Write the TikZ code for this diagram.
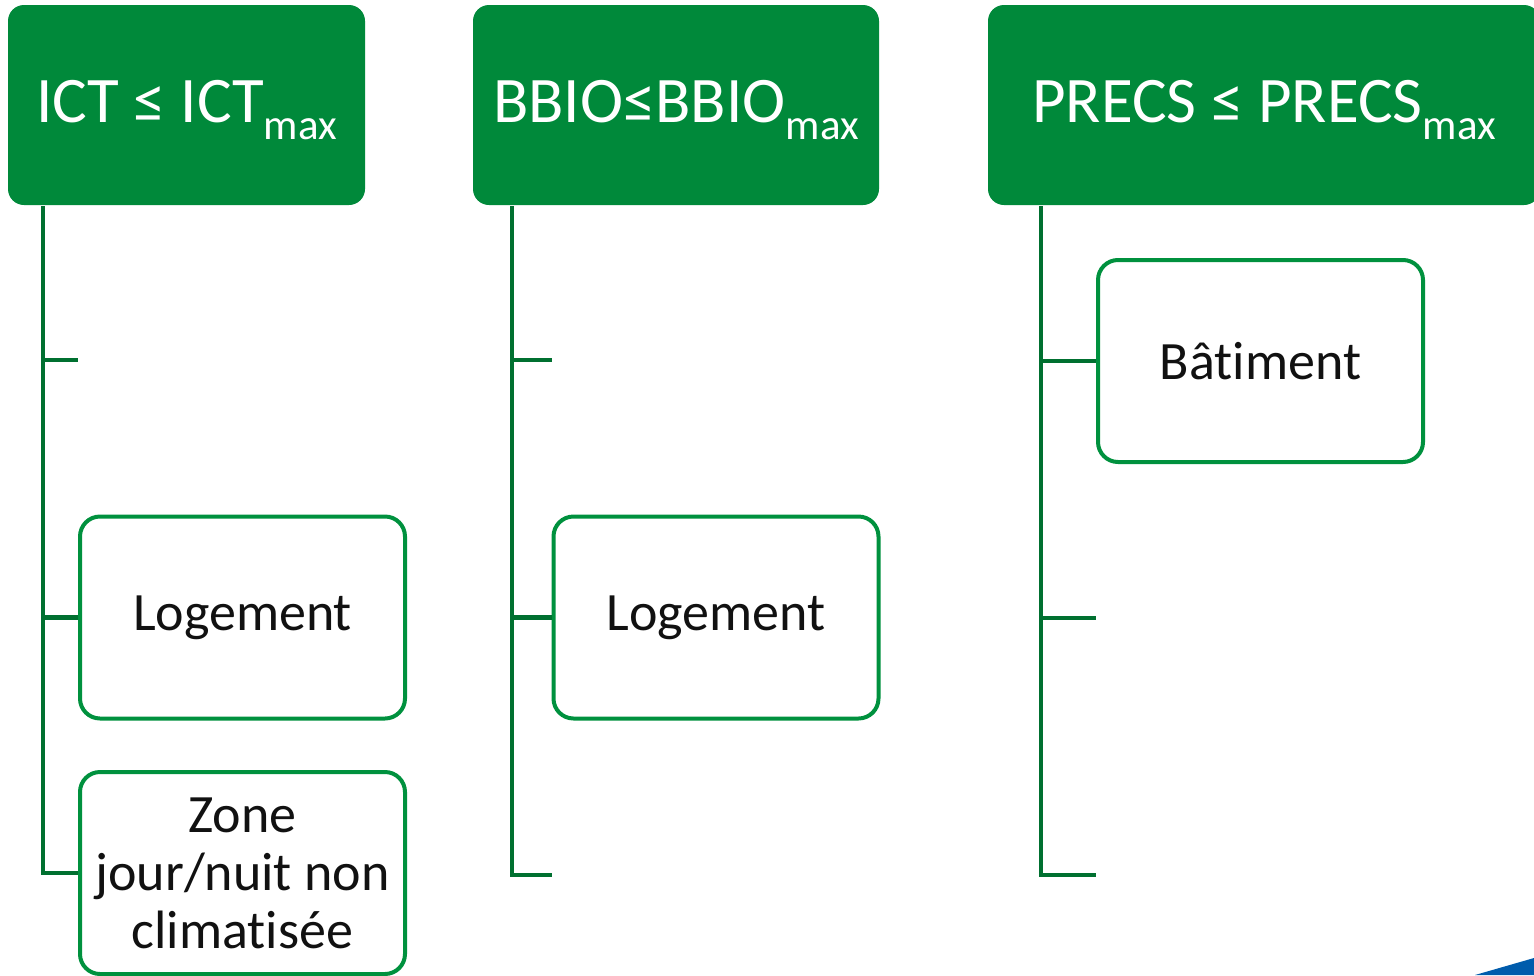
\documentclass[tikz,border=0pt]{standalone}
\usepackage{fontspec}
\setmainfont{Carlito}[RawFeature={-liga;-clig;-calt;-dlig;-hlig}]
\definecolor{hdrgreen}{RGB}{0,137,58}
\definecolor{boxgreen}{RGB}{0,145,62}
\definecolor{trunkgreen}{RGB}{0,112,48}
\definecolor{txtblack}{RGB}{17,17,17}
\definecolor{cornerblue}{RGB}{0,92,172}
\newcommand{\hdrsub}[1]{\raisebox{-17pt}{\fontsize{43}{43}\selectfont #1}}
\newcommand{\hdrtxt}[1]{\raisebox{-5pt}[\height][\depth]{#1}}
\newcommand{\nolig}{\kern0pt\relax}
\begin{document}
\begin{tikzpicture}[x=1pt,y=-1pt,
  header/.style={rectangle,rounded corners=16pt,fill=hdrgreen,text=white,
    minimum height=200pt,inner sep=0pt,font=\fontsize{65}{70}\selectfont},
  childbox/.style={rectangle,rounded corners=20pt,draw=boxgreen,line width=4pt,fill=white,
    minimum width=325pt,minimum height=202pt,inner sep=0pt,text=txtblack,
    align=center,font=\fontsize{54}{58}\selectfont},
  trunk/.style={draw=trunkgreen,line width=4.5pt}]
\useasboundingbox (0,0) rectangle (1534,975);
\clip (0,0) rectangle (1534,975);
% headers
\node[header,minimum width=357pt] (h1) at (186.5,105) {\hdrtxt{ICT ≤ ICT\hdrsub{max}}};
\node[header,minimum width=406pt] (h2) at (676,105) {\hdrtxt{BBIO≤BBIO\hdrsub{max}}};
\node[header,minimum width=552pt] (h3) at (1264,105) {\hdrtxt{PRECS ≤ PRECS\hdrsub{max}}};
% children
\node[childbox] (l1) at (242.5,617.5) {Logement};
\node[childbox] (z1) at (242.5,873) {Zone\\jour/nuit non\\climat\nolig isée};
\node[childbox] (l2) at (716,617.5) {Logement};
\node[childbox] (b3) at (1260.5,361) {Bât\nolig iment};
% trunk tops and free tick ends
\coordinate (t1) at (43,206);
\coordinate (t2) at (512,206);
\coordinate (t3) at (1041,206);
\coordinate (e1) at (78,360);
\coordinate (e2a) at (552,360);
\coordinate (e2b) at (552,875);
\coordinate (e3a) at (1096,618);
\coordinate (e3b) at (1096,875);
% column 1
\draw[trunk] (t1) |- (z1.west);
\draw[trunk] (t1 |- e1) -- (e1);
\draw[trunk] (t1 |- l1.west) -- (l1.west);
% column 2
\draw[trunk] (t2) |- (e2b);
\draw[trunk] (t2 |- e2a) -- (e2a);
\draw[trunk] (t2 |- l2.west) -- (l2.west);
% column 3
\draw[trunk] (t3) |- (e3b);
\draw[trunk] (t3 |- b3.west) -- (b3.west);
\draw[trunk] (t3 |- e3a) -- (e3a);
% blue corner
\fill[cornerblue] (1475,975) -- (1534,958) -- (1534,975) -- cycle;
\end{tikzpicture}
\end{document}
